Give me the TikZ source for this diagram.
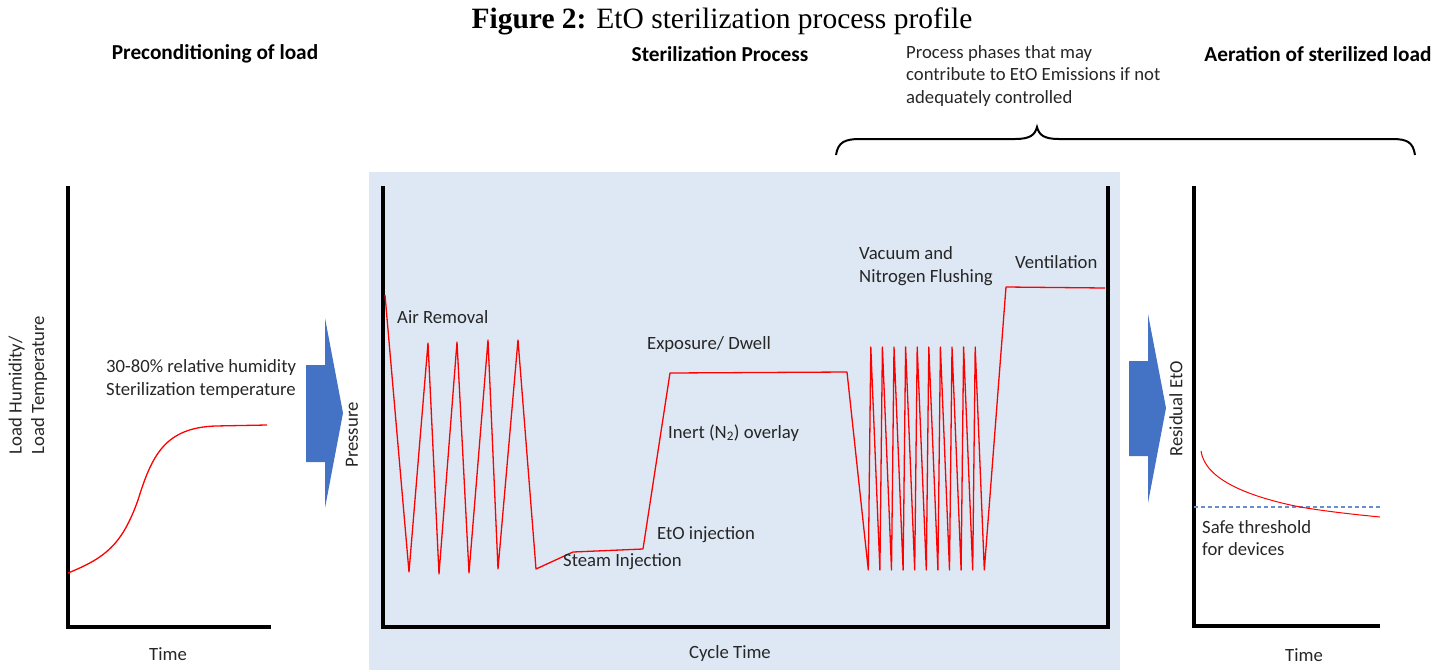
\documentclass[tikz,border=0pt]{standalone}
\usepackage{fontspec}
\setmainfont{Carlito}
\newfontfamily\titlefont{Liberation Serif}
\definecolor{panelbg}{RGB}{222,232,244}
\definecolor{arrowblue}{RGB}{68,114,196}
\definecolor{labelgray}{RGB}{38,38,38}
\begin{document}
\begin{tikzpicture}[x=1pt,y=-1pt]

    \tikzset{
      axisline/.style={line width=4pt, line join=miter},
      curve/.style={red, line width=1.3pt, line join=round},
      txt/.style={inner sep=0pt, text=labelgray, font=\fontsize{18.7}{22.5}\selectfont, align=left},
      headtxt/.style={inner sep=0pt, font=\fontsize{21.3}{25}\selectfont\bfseries},
      bigarrow/.style={fill=arrowblue, draw=none},
    }
    \useasboundingbox (0,0) rectangle (1449,670);
    \fill[panelbg] (369,172) rectangle (1120,670);

    \node[inner sep=0pt, anchor=base, font=\titlefont\fontsize{29.5}{32}\selectfont] (title) at (722,28) {\textbf{Figure 2:} EtO sterilization process profile};
    \node[headtxt] (precond) at (215,54) {Preconditioning of load};
    \node[headtxt] (steril) at (720,54) {Sterilization Process};
    \node[headtxt] (aeration) at (1318,54) {Aeration of sterilized load};
    \node[txt, anchor=west] (phases) at (906,76) {Process phases that may\\contribute to EtO Emissions if not\\adequately controlled};

    % brace under the phases note
    \draw[line width=2pt] (836,155) .. controls (838,142) and (845,139) .. (860,139) -- (1015,139)
      .. controls (1030,139) and (1035,135) .. (1037,127) .. controls (1039,135) and (1044,139) .. (1059,139)
      -- (1392,139) .. controls (1407,139) and (1413,142) .. (1415,155);

    % preconditioning
    \draw[axisline] (68,186) -- (68,627) -- (271,627);
    \draw[curve] (68,573) .. controls (105,558) and (122,545) .. (138,500)
      .. controls (152,455) and (165,428) .. (215,426) -- (267,425);
    \node[txt, rotate=90] (humid) at (28,385) {Load Humidity/\\Load Temperature};
    \node[txt, anchor=west] (rh) at (106,379) {30-80\% relative humidity\\Sterilization temperature};
    \node[txt] (time1) at (168,654) {Time};

    \fill[bigarrow] (306,365) -- (325,365) -- (325,318) -- (343,413) -- (325,508) -- (325,462) -- (306,462) -- cycle;

    % sterilization cycle
    \draw[axisline] (383,186) -- (383,627) -- (1108,627) -- (1108,186);
    \draw[curve] (385,295) -- (409,572) -- (428,343) -- (439,574) -- (457,342) -- (469,573)
      -- (488,340) -- (498,569) -- (518,340) -- (536,569) -- (573,552) -- (643,549)
      -- (670,373) -- (847,372) -- (868.3,570)
      \foreach \i in {0,...,9} { -- ({870.8+11.6*\i},347) -- ({879.9+11.6*\i},570) }
      -- (1006,287) -- (1105,288);
    \node[txt, rotate=90] (press) at (352,435) {Pressure};
    \node[txt, anchor=west] (airrem) at (397,317) {Air Removal};
    \node[txt, anchor=west] (steam) at (563,562) {Steam Injection};
    \node[txt, anchor=west] (etoinj) at (657,535) {EtO injection};
    \node[txt, anchor=west] (inert) at (668,433) {Inert (N\textsubscript{2}) overlay};
    \node[txt, anchor=west] (dwell) at (647,345) {Exposure/ Dwell};
    \node[txt, anchor=west] (flush) at (859,266) {Vacuum and\\Nitrogen Flushing};
    \node[txt, anchor=west] (vent) at (1015,262) {Ventilation};
    \node[txt] (cycletime) at (730,654) {Cycle Time};

    \fill[bigarrow] (1129,361) -- (1148,361) -- (1148,314) -- (1166,408) -- (1148,503) -- (1148,456) -- (1129,456) -- cycle;

    % aeration
    \draw[axisline] (1194,186) -- (1194,626) -- (1380,626);
    \draw[arrowblue!80!white, line width=1.2pt, dash pattern=on 4pt off 3pt] (1194,507) -- (1380,507);
    \draw[red, line width=1pt] (1201,451) .. controls (1205,480) and (1250,497) .. (1300,507)
      .. controls (1330,512) and (1360,515) .. (1380,517);
    \node[txt, rotate=90] (resid) at (1176,409) {Residual EtO};
    \node[txt, anchor=west] (safe) at (1202,538) {Safe threshold\\for devices};
    \node[txt] (time2) at (1304,655) {Time};

\end{tikzpicture}
\end{document}
